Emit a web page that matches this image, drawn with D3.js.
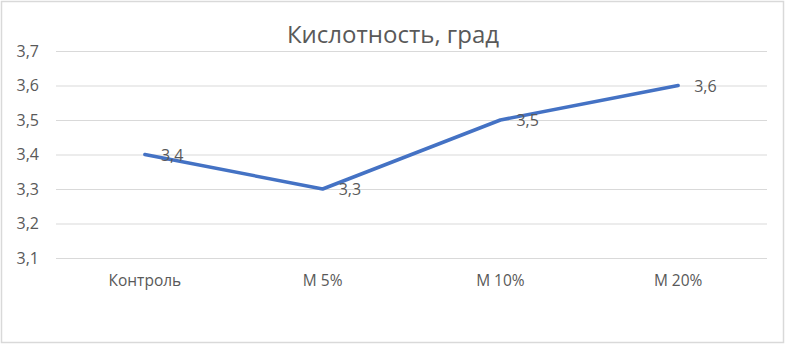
<!DOCTYPE html>
<html>
<head>
<meta charset="utf-8">
<script src="https://cdn.jsdelivr.net/npm/d3@7"></script>
<style>
	body { margin: 0; background: #fff; }
	text { font-family: "Open Sans", sans-serif; fill: #595959; }
</style>
</head>
<body>
<svg width="785" height="344"></svg>
<script>
const title = "Кислотность, град"
const categories = ["Контроль", "M 5%", "M 10%", "M 20%"]
const values = [3.4, 3.3, 3.5, 3.6]
const yTicks = [3.1, 3.2, 3.3, 3.4, 3.5, 3.6, 3.7]

const width = 785
const height = 344
const margin = {top: 51, right: 18, bottom: 86, left: 56}

const svg = d3.select("svg")
const fmt = v => d3.format(".1f")(v).replace(".", ",")

// frame
svg.append("rect")
	.attr("x", 1.5).attr("y", 1.5)
	.attr("width", width - 3).attr("height", height - 3)
	.attr("fill", "#fff").attr("stroke", "#d9d9d9").attr("stroke-width", 1.5)

const x = d3.scaleBand().domain(categories).range([margin.left, width - margin.right])
const y = d3.scaleLinear().domain([3.1, 3.7]).range([height - margin.bottom, margin.top])

// grid + y labels
const yAxis = d3.axisLeft(y).tickValues(yTicks).tickFormat(fmt)
	.tickSize(-(width - margin.left - margin.right)).tickPadding(17)
svg.append("g")
	.attr("transform", `translate(${margin.left},0)`)
	.call(yAxis)
	.call(g => g.select(".domain").remove())
	.call(g => g.selectAll("line").attr("stroke", "#d9d9d9"))
	.call(g => g.selectAll("text").attr("font-size", 16).style("fill", "#595959"))

// x labels
const xAxis = d3.axisBottom(x).tickSize(0).tickPadding(17)
svg.append("g")
	.attr("transform", `translate(0,${height - margin.bottom})`)
	.call(xAxis)
	.call(g => g.select(".domain").remove())
	.call(g => g.selectAll("text").attr("font-size", 15.5).style("fill", "#595959"))

// title
svg.append("text")
	.attr("x", 393).attr("y", 43)
	.attr("text-anchor", "middle")
	.attr("font-size", 24)
	.text(title)

const line = d3.line()
	.x((d, i) => x(categories[i]) + x.bandwidth() / 2)
	.y(d => y(d))

svg.append("path")
	.datum(values)
	.attr("d", line)
	.attr("fill", "none")
	.attr("stroke", "#4472c4")
	.attr("stroke-width", 3.5)
	.attr("stroke-linejoin", "round")
	.attr("stroke-linecap", "round")

svg.selectAll(".lbl")
	.data(values).enter().append("text")
	.attr("class", "lbl")
	.attr("x", (d, i) => x(categories[i]) + x.bandwidth() / 2 + 16)
	.attr("y", d => y(d) + 6)
	.attr("font-size", 16)
	.text(fmt)
</script>
</body>
</html>
